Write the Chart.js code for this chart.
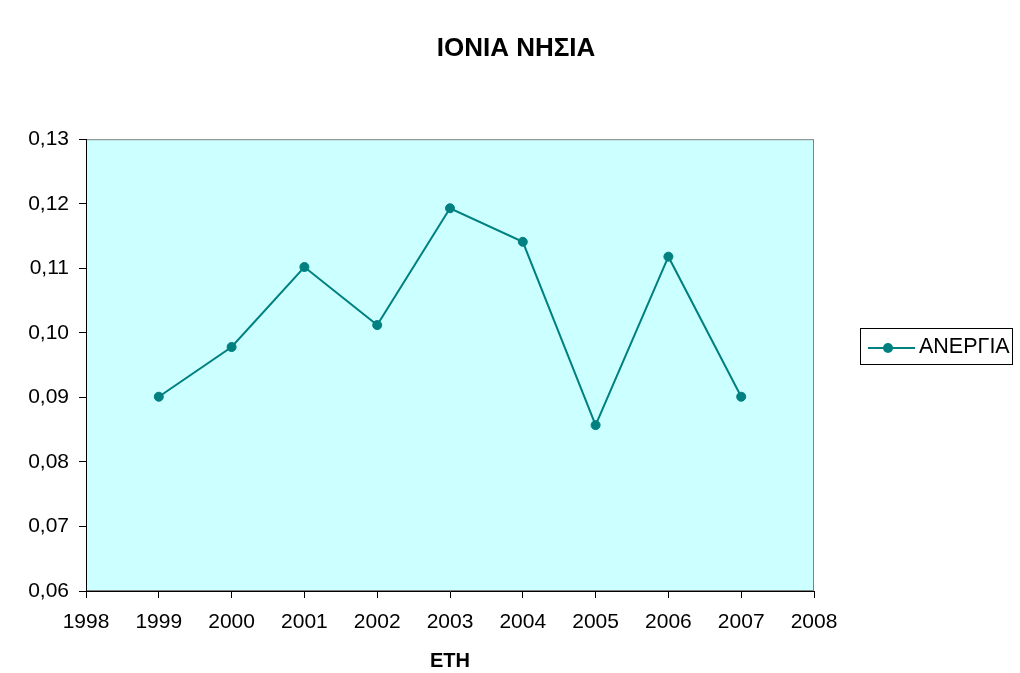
<!DOCTYPE html>
<html>
<head>
<meta charset="utf-8">
<title>ΙΟΝΙΑ ΝΗΣΙΑ</title>
<script src="https://cdn.jsdelivr.net/npm/chart.js@4"></script>
<style>
    html, body { margin: 0; padding: 0; background: #ffffff; }
    .chart-box { width: 1020px; height: 673px; position: relative; }
</style>
</head>
<body>
<div class="chart-box"><canvas id="anergiaChart"></canvas></div>
<script>
// chart data
const years = [1999, 2000, 2001, 2002, 2003, 2004, 2005, 2006, 2007];
const anergia = [0.0901, 0.0978, 0.1102, 0.1012, 0.1193, 0.1141, 0.0857, 0.1118, 0.0901];
const xTicks = [1998, 1999, 2000, 2001, 2002, 2003, 2004, 2005, 2006, 2007, 2008];
const yTicks = [0.06, 0.07, 0.08, 0.09, 0.10, 0.11, 0.12, 0.13];

const seriesName = 'ΑΝΕΡΓΙΑ';
const lineColor = '#008080';
const fontFamily = '"Liberation Sans", Arial, sans-serif';

document.addEventListener('DOMContentLoaded', function() {
    const ctx = document.getElementById('anergiaChart').getContext('2d');

    // Plot background + grey frame (Excel style)
    const plotArea = {
        id: 'plotArea',
        beforeDraw(chart) {
            const { ctx, chartArea: a } = chart;
            ctx.save();
            ctx.fillStyle = '#ccffff';
            ctx.fillRect(a.left, a.top, a.right - a.left, a.bottom - a.top);
            ctx.strokeStyle = '#808080';
            ctx.lineWidth = 1;
            ctx.strokeRect(a.left + 0.5, a.top + 0.5, a.right - a.left - 1, a.bottom - a.top - 1);
            ctx.restore();
        }
    };

    // Boxed legend on the right
    const boxLegend = {
        id: 'boxLegend',
        afterDraw(chart) {
            const ctx = chart.ctx;
            const ds = chart.data.datasets[0];
            ctx.save();
            ctx.fillStyle = '#ffffff';
            ctx.fillRect(860, 328, 152, 36);
            ctx.strokeStyle = '#000000';
            ctx.lineWidth = 1;
            ctx.strokeRect(860.5, 328.5, 152, 36);
            ctx.strokeStyle = ds.borderColor;
            ctx.lineWidth = 2;
            ctx.beginPath();
            ctx.moveTo(868, 348);
            ctx.lineTo(915, 348);
            ctx.stroke();
            ctx.fillStyle = ds.pointBackgroundColor;
            ctx.beginPath();
            ctx.arc(888, 348, 5, 0, Math.PI * 2);
            ctx.fill();
            ctx.fillStyle = '#000000';
            ctx.font = '21.5px ' + fontFamily;
            ctx.textBaseline = 'middle';
            ctx.textAlign = 'left';
            ctx.fillText(ds.label, 919, 347);
            ctx.restore();
        }
    };

    new Chart(ctx, {
        type: 'line',
        data: {
            datasets: [{
                label: seriesName,
                data: years.map((y, i) => ({ x: y, y: anergia[i] })),
                borderColor: lineColor,
                backgroundColor: lineColor,
                pointBackgroundColor: lineColor,
                pointBorderColor: lineColor,
                pointRadius: 4.5,
                pointBorderWidth: 1,
                borderWidth: 2,
                tension: 0,
                fill: false
            }]
        },
        options: {
            responsive: true,
            maintainAspectRatio: false,
            animation: false,
            layout: { padding: { left: 12, right: 0, top: 0, bottom: 0 } },
            plugins: {
                legend: { display: false },
                tooltip: { enabled: false },
                title: {
                    display: true,
                    text: 'ΙΟΝΙΑ ΝΗΣΙΑ',
                    color: '#000000',
                    font: { family: fontFamily, size: 26, weight: 'bold' },
                    padding: { top: 33, bottom: 75 }
                }
            },
            scales: {
                x: {
                    type: 'linear',
                    min: xTicks[0],
                    max: xTicks[xTicks.length - 1],
                    afterBuildTicks: s => { s.ticks = xTicks.map(v => ({ value: v })); },
                    afterFit: s => { s.height = 82; },
                    grid: { display: true, drawOnChartArea: false, drawTicks: true, tickLength: 7, color: '#000000' },
                    border: { display: true, color: '#000000', width: 1 },
                    ticks: {
                        color: '#000000',
                        padding: 12,
                        maxRotation: 0,
                        font: { family: fontFamily, size: 21 },
                        callback: v => String(v)
                    },
                    title: {
                        display: true,
                        text: 'ΕΤΗ',
                        color: '#000000',
                        font: { family: fontFamily, size: 20, weight: 'bold' },
                        padding: { top: 0, bottom: 0 }
                    }
                },
                y: {
                    min: yTicks[0],
                    max: yTicks[yTicks.length - 1],
                    afterBuildTicks: s => { s.ticks = yTicks.map(v => ({ value: v })); },
                    afterFit: s => { s.width = 74; },
                    grid: { display: true, drawOnChartArea: false, drawTicks: true, tickLength: 7, color: '#000000' },
                    border: { display: true, color: '#000000', width: 1 },
                    ticks: {
                        color: '#000000',
                        padding: 10,
                        font: { family: fontFamily, size: 21 },
                        callback: v => v.toFixed(2).replace('.', ',')
                    }
                },
                spacer: {
                    type: 'linear',
                    position: 'right',
                    display: true,
                    afterFit: s => { s.width = 206; },
                    grid: { display: false },
                    border: { display: false },
                    ticks: { display: false }
                }
            }
        },
        plugins: [plotArea, boxLegend]
    });
});
</script>
</body>
</html>
